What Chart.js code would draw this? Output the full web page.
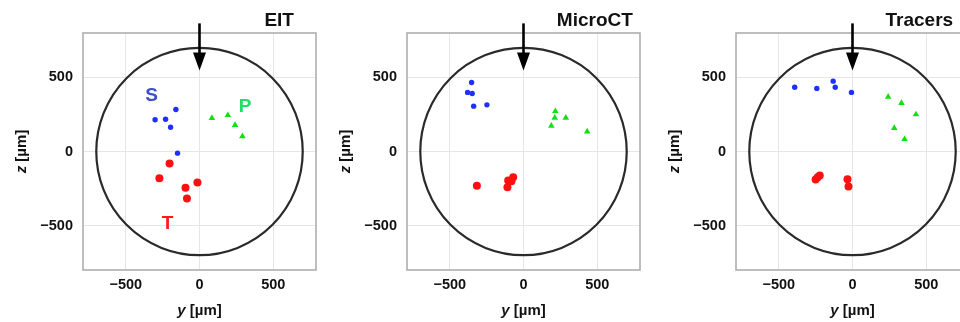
<!DOCTYPE html>
<html>
<head>
<meta charset="utf-8">
<script src="https://cdn.jsdelivr.net/npm/chart.js@4.4.1/dist/chart.umd.min.js"></script>
<style>
  html, body { margin: 0; padding: 0; background: #ffffff; overflow: hidden; }
  #wrap { position: relative; width: 960px; height: 322px; overflow: hidden; }
  .panel { position: absolute; top: 0; width: 330px; height: 322px; }
  canvas { display: block; }
</style>
</head>
<body>
<div id="wrap">
  <div class="panel" style="left:0px"><canvas id="c0" width="330" height="322"></canvas></div>
  <div class="panel" style="left:324px"><canvas id="c1" width="330" height="322"></canvas></div>
  <div class="panel" style="left:653px"><canvas id="c2" width="330" height="322"></canvas></div>
</div>
<script>
// ---------- data (y, z in µm) ----------
const panelTitles = ['EIT', 'MicroCT', 'Tracers'];
const tickValues = [-500, 0, 500];
const yRange = [-790, 790];
const zRange = [-800, 800];
const vesselRadius = 700;          // µm, outline circle
const arrowZ = [865, 547];          // arrow from top (shaft start) to tip, at y = 0
const xAxisTitle = ['y', ' [µm]'];
const yAxisTitle = ['z', ' [µm]'];

// EIT
const eitS_y = [-160, -301, -230, -196, -149];
const eitS_z = [284, 214, 218, 164, -11];
const eitP_y = [84, 192, 241, 291];
const eitP_z = [225, 245, 178, 103];
const eitT_y = [-203, -272, -95, -14, -85];
const eitT_z = [-81, -180, -245, -209, -318];

// MicroCT
const ctS_y = [-352, -379, -348, -338, -248];
const ctS_z = [466, 399, 392, 306, 315];
const ctP_y = [216, 212, 287, 189, 432];
const ctP_z = [272, 228, 228, 173, 135];
const ctT_y = [-316, -70, -82, -104, -109];
const ctT_z = [-232, -174, -200, -196, -241];

// Tracers
const trS_y = [-392, -242, -131, -117, -7];
const trS_z = [434, 426, 475, 434, 399];
const trP_y = [242, 332, 430, 283, 353];
const trP_z = [369, 327, 250, 158, 83];
const trT_y = [-222, -236, -250, -34, -27];
const trT_z = [-162, -174, -189, -187, -236];

// group labels (EIT panel only)
const groupLabels = ['S', 'P', 'T'];
const groupLabelY = [-325, 309, -216];
const groupLabelZ = [376, 300, -489];

// ---------- styles ----------
const colS = '#1f2fff', colP = '#11e011', colT = '#ff1010';
const labelCols = ['#3a4fc8', '#22dd66', '#ff1a1a'];
const FONT = '"Liberation Sans", Arial, Helvetica, sans-serif';

function pts(ys, zs) { return ys.map((v, i) => ({ x: v, y: zs[i] })); }

const panels = [
  { S: pts(eitS_y, eitS_z), P: pts(eitP_y, eitP_z), T: pts(eitT_y, eitT_z), labels: true, titleAt: [440, 885] },
  { S: pts(ctS_y, ctS_z), P: pts(ctP_y, ctP_z), T: pts(ctT_y, ctT_z), labels: false, titleAt: [226, 885] },
  { S: pts(trS_y, trS_z), P: pts(trP_y, trP_z), T: pts(trT_y, trT_z), labels: false, titleAt: [224, 885] }
];

function minusFmt(v) { return v < 0 ? '\u2212' + Math.abs(v) : String(v); }

function drawMixed(ctx, parts, x, y, size) {
  const f1 = 'italic bold ' + size + 'px ' + FONT;
  const f2 = 'bold ' + size + 'px ' + FONT;
  ctx.font = f1; const w1 = ctx.measureText(parts[0]).width;
  ctx.font = f2; const w2 = ctx.measureText(parts[1]).width;
  const start = x - (w1 + w2) / 2;
  ctx.textAlign = 'left'; ctx.textBaseline = 'middle';
  ctx.font = f1; ctx.fillText(parts[0], start, y);
  ctx.font = f2; ctx.fillText(parts[1], start + w1, y);
}

const decorPlugin = {
  id: 'decor',
  beforeDatasetsDraw(chart, args, opts) {
    const { ctx, chartArea: a, scales: { x, y } } = chart;
    ctx.save();
    // frame
    ctx.strokeStyle = '#aeaeae'; ctx.lineWidth = 1.6;
    ctx.strokeRect(a.left, a.top, a.right - a.left, a.bottom - a.top);
    // vessel outline
    const cx = x.getPixelForValue(0), cy = y.getPixelForValue(0);
    const rx = x.getPixelForValue(vesselRadius) - cx;
    const ry = cy - y.getPixelForValue(vesselRadius);
    ctx.strokeStyle = '#2a2a2a'; ctx.lineWidth = 2.2;
    ctx.beginPath(); ctx.ellipse(cx, cy, rx, ry, 0, 0, Math.PI * 2); ctx.stroke();
    ctx.restore();
  },
  afterDatasetsDraw(chart, args, opts) {
    const { ctx, chartArea: a, scales: { x, y } } = chart;
    const p = opts.panel;
    ctx.save();
    // arrow
    const ax = x.getPixelForValue(0);
    const yTop = y.getPixelForValue(arrowZ[0]);
    const yTip = y.getPixelForValue(arrowZ[1]);
    const headLen = 18, headHalf = 6.5;
    ctx.strokeStyle = '#000'; ctx.fillStyle = '#000'; ctx.lineWidth = 2.6;
    ctx.beginPath(); ctx.moveTo(ax, yTop); ctx.lineTo(ax, yTip - headLen + 2); ctx.stroke();
    ctx.beginPath(); ctx.moveTo(ax - headHalf, yTip - headLen); ctx.lineTo(ax + headHalf, yTip - headLen);
    ctx.lineTo(ax, yTip); ctx.closePath(); ctx.fill();
    // title
    ctx.fillStyle = '#111'; ctx.font = 'bold 19px ' + FONT;
    ctx.textAlign = 'left'; ctx.textBaseline = 'middle';
    ctx.fillText(panelTitles[opts.index], x.getPixelForValue(p.titleAt[0]), y.getPixelForValue(p.titleAt[1]));
    // group labels
    if (p.labels) {
      ctx.font = 'bold 19px ' + FONT; ctx.textAlign = 'center';
      groupLabels.forEach((t, i) => {
        ctx.fillStyle = labelCols[i];
        ctx.fillText(t, x.getPixelForValue(groupLabelY[i]), y.getPixelForValue(groupLabelZ[i]));
      });
    }
    // axis titles
    ctx.fillStyle = '#111';
    drawMixed(ctx, xAxisTitle, (a.left + a.right) / 2, 311, 15);
    ctx.save();
    ctx.translate(a.left - 61, (a.top + a.bottom) / 2);
    ctx.rotate(-Math.PI / 2);
    drawMixed(ctx, yAxisTitle, 0, 0, 15);
    ctx.restore();
    ctx.restore();
  }
};

panels.forEach((p, i) => {
  new Chart(document.getElementById('c' + i), {
    type: 'scatter',
    data: {
      datasets: [
        { data: p.S, pointStyle: 'circle', pointRadius: 2.7, backgroundColor: colS, borderColor: colS, borderWidth: 0 },
        { data: p.P, pointStyle: 'triangle', pointRadius: 3.8, backgroundColor: colP, borderColor: colP, borderWidth: 0 },
        { data: p.T, pointStyle: 'circle', pointRadius: 4, backgroundColor: colT, borderColor: colT, borderWidth: 0 }
      ]
    },
    options: {
      responsive: false,
      maintainAspectRatio: false,
      animation: false,
      devicePixelRatio: 1,
      layout: { padding: { left: 0, top: 33, right: 14, bottom: 0 } },
      plugins: { legend: { display: false }, tooltip: { enabled: false }, decor: { panel: p, index: i } },
      scales: {
        x: {
          type: 'linear', min: yRange[0], max: yRange[1],
          afterBuildTicks: s => { s.ticks = tickValues.map(v => ({ value: v })); },
          afterFit: s => { s.height = 52; },
          grid: { color: '#e6e6e6', lineWidth: 1, drawTicks: false },
          border: { display: false },
          ticks: { padding: 6, color: '#111', font: { family: FONT, size: 14.5, weight: 'bold' }, callback: minusFmt, maxRotation: 0 }
        },
        y: {
          type: 'linear', min: zRange[0], max: zRange[1],
          afterBuildTicks: s => { s.ticks = tickValues.map(v => ({ value: v })); },
          afterFit: s => { s.width = 83; },
          grid: { color: '#e6e6e6', lineWidth: 1, drawTicks: false },
          border: { display: false },
          ticks: { padding: 10, color: '#111', font: { family: FONT, size: 14.5, weight: 'bold' }, callback: minusFmt }
        }
      }
    },
    plugins: [decorPlugin]
  });
});
</script>
</body>
</html>
